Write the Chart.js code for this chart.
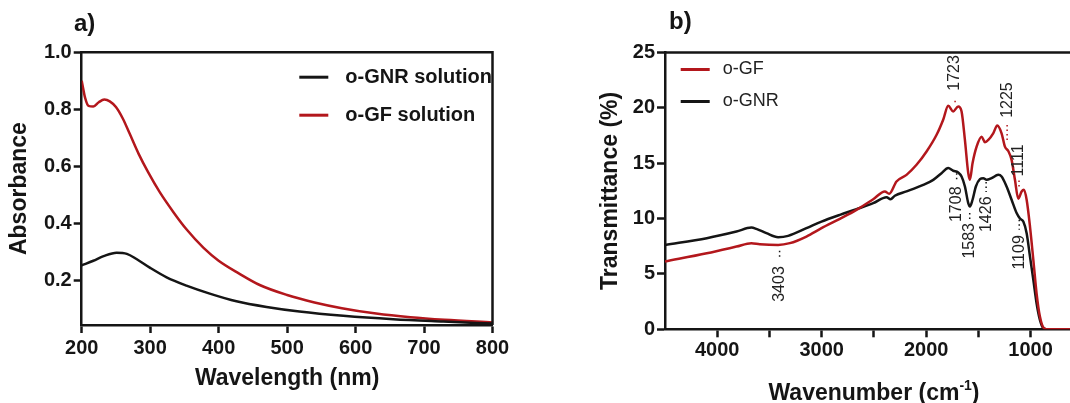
<!DOCTYPE html>
<html>
<head>
<meta charset="utf-8">
<script src="https://cdn.jsdelivr.net/npm/chart.js@4.4.1/dist/chart.umd.min.js"></script>
<style>
  html, body { margin: 0; padding: 0; background: #fff; overflow: hidden; }
  .panel { position: absolute; top: 0; width: 530px; height: 403px; }
  #panelA { left: 0; }
  #panelB { left: 540px; }
</style>
</head>
<body>
<div id="panelA" class="panel"><canvas id="uvChart"></canvas></div>
<div id="panelB" class="panel"><canvas id="irChart"></canvas></div>
<script>
// a) UV-vis absorbance
const uvGnrNm = [200, 217, 232, 251, 266, 280, 300, 324, 353, 387, 426, 470, 518, 582, 655, 728, 800];
const uvGnrAbs = [0.254, 0.27, 0.286, 0.298, 0.294, 0.276, 0.245, 0.212, 0.183, 0.155, 0.128, 0.108, 0.092, 0.077, 0.065, 0.057, 0.05];
const uvGfNm = [200, 202, 205, 210, 217, 225, 233, 241, 250, 260, 270, 283, 297, 314, 334, 353, 378, 400, 430, 460, 500, 540, 580, 630, 680, 730, 800];
const uvGfAbs = [0.9, 0.875, 0.84, 0.812, 0.81, 0.825, 0.834, 0.828, 0.808, 0.768, 0.715, 0.645, 0.58, 0.51, 0.44, 0.38, 0.315, 0.27, 0.225, 0.185, 0.15, 0.124, 0.104, 0.085, 0.072, 0.063, 0.054];
const uvXTicks = [200, 300, 400, 500, 600, 700, 800];
const uvYTicks = [0.2, 0.4, 0.6, 0.8, 1.0];

// b) FTIR transmittance
const irGfWn = [4500, 4100, 3816, 3673, 3593, 3417, 3305, 3146, 3002, 2826, 2667, 2507, 2395, 2354, 2284, 2188, 2092, 1996, 1900, 1837, 1789, 1741, 1693, 1661, 1629, 1597, 1581, 1556, 1517, 1469, 1437, 1405, 1358, 1319, 1278, 1246, 1214, 1182, 1150, 1118, 1086, 1064, 1038, 1006, 974, 943, 911, 872, 831, 623];
const irGfT = [6.12, 6.87, 7.47, 7.78, 7.69, 7.62, 7.78, 8.38, 9.13, 9.98, 10.79, 11.75, 12.45, 12.24, 13.35, 13.95, 14.86, 16.06, 17.57, 18.93, 20.19, 19.68, 20.13, 19.68, 17.1, 14.1, 13.5, 15.0, 16.5, 17.4, 16.9, 17.1, 17.7, 18.4, 17.7, 16.5, 16.1, 15.3, 13.5, 11.8, 12.45, 12.6, 11.7, 9.28, 6.27, 3.25, 1.15, 0.1, 0, 0];
const irGnrWn = [4500, 4100, 3816, 3673, 3625, 3529, 3417, 3321, 3146, 3002, 2826, 2667, 2507, 2379, 2341, 2300, 2188, 2028, 1932, 1853, 1789, 1741, 1693, 1661, 1629, 1597, 1581, 1556, 1524, 1485, 1453, 1421, 1374, 1310, 1278, 1230, 1182, 1134, 1102, 1070, 1038, 1006, 974, 943, 911, 879, 847, 623];
const irGnrT = [7.62, 8.23, 8.83, 9.19, 9.07, 8.68, 8.32, 8.44, 9.13, 9.73, 10.34, 10.85, 11.39, 11.93, 11.75, 12.06, 12.45, 13.05, 13.5, 14.1, 14.56, 14.32, 14.17, 13.8, 12.9, 11.4, 11.1, 11.7, 12.9, 13.56, 13.65, 13.5, 13.65, 13.95, 13.8, 12.9, 11.7, 10.5, 10.0, 9.73, 8.68, 6.57, 4.46, 2.35, 0.84, 0.1, 0, 0];
const irXTicks = [4000, 3500, 3000, 2500, 2000, 1500, 1000];
const irYTicks = [0, 5, 10, 15, 20, 25];

// peak labels: wavenumber, dotted leader (from -> to, %T), where text starts (%T)
const irPeakWn = [3403, 1723, 1708, 1583, 1426, 1225, 1111, 1109];
const irPeakFrom = [7.1, 20.5, 14.1, 10.5, 13.3, 17.1, 12.9, 9.9];
const irPeakTo = [6.4, 20.9, 13.3, 9.9, 12.4, 18.7, 13.5, 9.0];
const irPeakText = [5.7, 21.55, 12.9, 9.6, 12.0, 19.1, 13.8, 8.5];
const irPeakSeries = ["gnr", "gf", "gnr", "gnr", "gnr", "gf", "gf", "gnr"];

const black = "#151515";
const red = "#b3171c";
const fontFamily = "'Liberation Sans', Arial, sans-serif";
Chart.defaults.font.family = fontFamily;

const toPoints = (xs, ys) => xs.map((x, i) => ({ x, y: ys[i] }));

function lineSet(label, points, color) {
    return {
        label,
        data: points,
        borderColor: color,
        backgroundColor: color,
        borderWidth: 2.5,
        pointRadius: 0,
        cubicInterpolationMode: "monotone",
    };
}

/** top / right frame lines of the plot box */
const boxFrame = {
    id: "boxFrame",
    afterDraw(chart, args, opts) {
        const { ctx, chartArea: a } = chart;
        ctx.save();
        ctx.strokeStyle = black;
        ctx.lineWidth = 2.5;
        ctx.beginPath();
        ctx.moveTo(a.left, a.top);
        ctx.lineTo(a.right, a.top);
        if (opts.right) ctx.lineTo(a.right, a.bottom);
        ctx.stroke();
        ctx.restore();
    },
};

/** panel letter a) / b) */
const panelTag = {
    id: "panelTag",
    afterDraw(chart, args, opts) {
        const { ctx } = chart;
        ctx.save();
        ctx.font = "bold 24px " + fontFamily;
        ctx.fillStyle = black;
        ctx.textBaseline = "middle";
        ctx.fillText(opts.text, opts.x, opts.y);
        ctx.restore();
    },
};

/** legend drawn inside the plot */
const insetLegend = {
    id: "insetLegend",
    afterDraw(chart, args, opts) {
        const { ctx, chartArea } = chart;
        ctx.save();
        ctx.font = opts.font;
        ctx.textBaseline = "middle";
        chart.data.datasets.forEach((ds, i) => {
            const x = chartArea.left + opts.left;
            const y = chartArea.top + opts.top + i * opts.gap;
            ctx.strokeStyle = ds.borderColor;
            ctx.lineWidth = 3;
            ctx.beginPath();
            ctx.moveTo(x, y);
            ctx.lineTo(x + opts.lineLen, y);
            ctx.stroke();
            ctx.fillStyle = opts.color;
            ctx.fillText(ds.label, x + opts.lineLen + opts.textGap, y);
        });
        ctx.restore();
    },
};

/** rotated peak labels with dotted leaders */
const peakLabels = {
    id: "peakLabels",
    afterDraw(chart) {
        const { ctx, scales } = chart;
        ctx.save();
        irPeakWn.forEach((wn, i) => {
            const x = scales.x.getPixelForValue(wn);
            const y1 = scales.y.getPixelForValue(irPeakFrom[i]);
            const y2 = scales.y.getPixelForValue(irPeakTo[i]);
            const yt = scales.y.getPixelForValue(irPeakText[i]);
            ctx.strokeStyle = irPeakSeries[i] === "gf" ? red : black;
            ctx.lineWidth = 1.5;
            ctx.setLineDash([1.5, 3]);
            ctx.beginPath();
            ctx.moveTo(x, y1);
            ctx.lineTo(x, y2);
            ctx.stroke();
            ctx.setLineDash([]);

            const up = irPeakText[i] > irPeakFrom[i];
            ctx.translate(x, yt);
            ctx.rotate(-Math.PI / 2);
            ctx.font = "16px " + fontFamily;
            ctx.fillStyle = "#222";
            ctx.textBaseline = "middle";
            ctx.textAlign = up ? "left" : "right";
            ctx.fillText(String(wn), 0, 0);
            ctx.setTransform(1, 0, 0, 1, 0, 0);
        });
        ctx.restore();
    },
};

/** x title with superscript */
const superTitle = {
    id: "superTitle",
    afterDraw(chart, args, opts) {
        const { ctx, chartArea } = chart;
        ctx.save();
        ctx.fillStyle = black;
        ctx.textBaseline = "alphabetic";
        const big = "bold 23px " + fontFamily;
        const small = "bold 14px " + fontFamily;
        ctx.font = big;
        const w1 = ctx.measureText("Wavenumber (cm").width;
        const w3 = ctx.measureText(")").width;
        ctx.font = small;
        const w2 = ctx.measureText("-1").width;
        let x = chartArea.left + opts.center - (w1 + w2 + w3) / 2;
        const y = opts.baseline;
        ctx.font = big;
        ctx.fillText("Wavenumber (cm", x, y);
        x += w1;
        ctx.font = small;
        ctx.fillText("-1", x, y - 10);
        x += w2;
        ctx.font = big;
        ctx.fillText(")", x, y);
        ctx.restore();
    },
};

const tickFont = { size: 20, weight: "bold" };
const titleFont = { size: 23, weight: "bold" };

function axisGrid() {
    return {
        drawOnChartArea: false,
        drawTicks: true,
        tickLength: 8,
        tickWidth: 2.5,
        color: black,
    };
}

new Chart(document.getElementById("uvChart"), {
    type: "line",
    data: {
        datasets: [
            lineSet("o-GNR solution", toPoints(uvGnrNm, uvGnrAbs), black),
            lineSet("o-GF solution", toPoints(uvGfNm, uvGfAbs), red),
        ],
    },
    options: {
        responsive: true,
        maintainAspectRatio: false,
        animation: false,
        layout: { padding: { top: 52.2, right: 37.5, left: 0, bottom: 0 } },
        scales: {
            x: {
                type: "linear",
                min: 200,
                max: 800,
                afterBuildTicks: (s) => { s.ticks = uvXTicks.map((v) => ({ value: v })); },
                afterFit: (s) => { s.height = 78; },
                ticks: { font: tickFont, color: black, padding: 3, maxRotation: 0, autoSkip: false },
                grid: axisGrid(),
                border: { color: black, width: 2.5 },
                title: { display: true, text: "Wavelength (nm)", font: titleFont, color: black, padding: { top: 0, bottom: 11 } },
            },
            y: {
                min: 0.045,
                max: 1.0,
                afterBuildTicks: (s) => { s.ticks = uvYTicks.map((v) => ({ value: v })); },
                afterFit: (s) => { s.width = 81.7; },
                ticks: { font: tickFont, color: black, padding: 2, callback: (v) => v.toFixed(1) },
                grid: axisGrid(),
                border: { color: black, width: 2.5 },
                title: { display: true, text: "Absorbance", font: titleFont, color: black, padding: { top: 6, bottom: 0 } },
            },
        },
        plugins: {
            legend: { display: false },
            tooltip: { enabled: false },
            boxFrame: { right: true },
            panelTag: { text: "a)", x: 74, y: 24 },
            insetLegend: { font: "bold 20px " + fontFamily, color: black, left: 217.6, top: 25, gap: 38, lineLen: 29, textGap: 17 },
        },
    },
    plugins: [boxFrame, panelTag, insetLegend],
});

new Chart(document.getElementById("irChart"), {
    type: "line",
    data: {
        datasets: [
            lineSet("o-GF", toPoints(irGfWn, irGfT), red),
            lineSet("o-GNR", toPoints(irGnrWn, irGnrT), black),
        ],
    },
    options: {
        responsive: true,
        maintainAspectRatio: false,
        animation: false,
        layout: { padding: { top: 52.5, right: 0, left: 0, bottom: 0 } },
        scales: {
            x: {
                type: "linear",
                reverse: true,
                min: 623,
                max: 4500,
                afterBuildTicks: (s) => { s.ticks = irXTicks.map((v) => ({ value: v })); },
                afterFit: (s) => { s.height = 73.7; },
                ticks: {
                    font: tickFont, color: black, padding: 1, maxRotation: 0, autoSkip: false,
                    callback: (v) => (v % 1000 === 0 ? String(v) : ""),
                },
                grid: axisGrid(),
                border: { color: black, width: 2.5 },
            },
            y: {
                min: 0,
                max: 25,
                afterBuildTicks: (s) => { s.ticks = irYTicks.map((v) => ({ value: v })); },
                afterFit: (s) => { s.width = 125; },
                ticks: { font: tickFont, color: black, padding: 2 },
                grid: axisGrid(),
                border: { color: black, width: 2.5 },
                title: { display: true, text: "Transmittance (%)", font: titleFont, color: black, padding: { top: 57, bottom: 0 } },
            },
        },
        plugins: {
            legend: { display: false },
            tooltip: { enabled: false },
            boxFrame: { right: false },
            panelTag: { text: "b)", x: 129, y: 22 },
            insetLegend: { font: "18px " + fontFamily, color: "#222", left: 15.7, top: 17, gap: 32, lineLen: 29, textGap: 13 },
            superTitle: { center: 209, baseline: 400 },
        },
    },
    plugins: [boxFrame, panelTag, insetLegend, peakLabels, superTitle],
});
</script>
</body>
</html>
